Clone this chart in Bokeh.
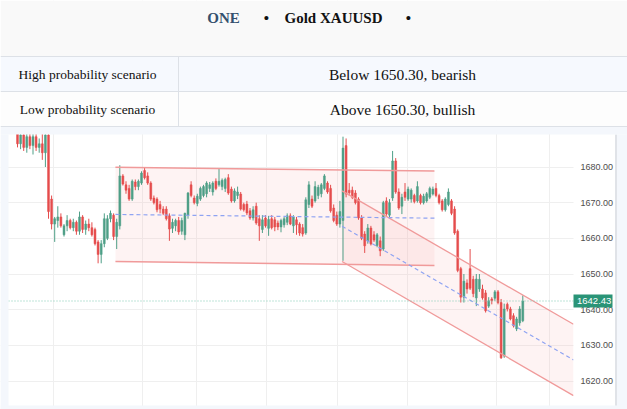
from bokeh.plotting import figure
from bokeh.models import Range1d, FixedTicker, Grid, ColumnDataSource
from bokeh.embed import file_html
from bokeh.resources import INLINE
from bokeh.core.properties import value

# ---------------- data ----------------
title_parts = ["ONE", "\u2022", "Gold XAUUSD", "\u2022"]
level = "1650.30"
scenario_labels = ["High probability scenario", "Low probability scenario"]
scenario_texts = ["Below %s, bearish" % level, "Above %s, bullish" % level]

opens = [1689.5, 1686.5, 1689, 1685.5, 1688.5, 1686, 1688.5, 1685.5, 1686.5, 1684,
         1689, 1671, 1664, 1665, 1666, 1661, 1663.5, 1665, 1663, 1664.5,
         1662, 1666, 1662.5, 1664, 1663, 1662.5, 1659, 1655.5, 1658.5, 1660,
         1665.5, 1666.5, 1660.5, 1663.5, 1677.5, 1675, 1674, 1671, 1675.8, 1674.5,
         1675.5, 1679, 1677.5, 1675.5, 1671.3, 1671, 1669.5, 1668.2, 1668.2, 1666.3,
         1662.8, 1663.5, 1665, 1662, 1661, 1666.5, 1675, 1671.3, 1669.8, 1671,
         1672, 1672.5, 1674, 1673, 1676, 1675, 1674.5, 1674, 1677, 1673.8,
         1670.5, 1672, 1672.4, 1669.5, 1669.6, 1667.7, 1665.7, 1669, 1665.5, 1662.5,
         1665.7, 1662.8, 1665.5, 1665.2, 1664.3, 1663.2, 1663.8, 1664.5, 1666.3, 1663.5,
         1665.2, 1664, 1663, 1661.5, 1669.5, 1671, 1670.5, 1672, 1672.5, 1674,
         1675.5, 1674, 1668.5, 1666.5, 1664, 1665, 1686, 1673.5, 1673.5, 1672.7,
         1671, 1665.7, 1661.2, 1659.3, 1662.9, 1661, 1658, 1659.3, 1657, 1670.5,
         1666.5, 1671.3, 1681.7, 1673, 1669, 1673, 1671, 1671, 1672, 1670.5,
         1672, 1670, 1670.5, 1671.5, 1672.4, 1674, 1672, 1670.5, 1668, 1669.5,
         1670.5, 1668.2, 1662, 1651.5, 1643.5, 1647.5, 1651.5, 1648.5, 1643.3, 1645.8,
         1645.8, 1644.7, 1641, 1643, 1643.2, 1645, 1642, 1627, 1641.5, 1640.2,
         1638.3, 1634.6, 1636.3, 1636.9]
highs = [1691, 1690, 1690.5, 1689.5, 1690, 1689.5, 1690, 1688, 1690, 1690.5,
         1690.5, 1672, 1666, 1669, 1667, 1664, 1666.5, 1665.5, 1665.5, 1665,
         1667.5, 1666.5, 1665, 1665.5, 1664.5, 1663, 1659.5, 1659.5, 1667, 1666.5,
         1667.8, 1667, 1665.5, 1680.5, 1678, 1676, 1675, 1676.5, 1676.5, 1676.5,
         1678.8, 1680, 1678.5, 1676, 1672, 1671.5, 1670.5, 1669, 1669, 1667,
         1665.5, 1665.5, 1666, 1665.8, 1667.2, 1673, 1676, 1672, 1672.5, 1674.5,
         1675, 1676, 1675.8, 1676, 1676.8, 1679.5, 1676.8, 1677, 1678, 1674.5,
         1674, 1674.5, 1673, 1670, 1670.5, 1668.5, 1669, 1670, 1666.5, 1666.5,
         1666.5, 1666.3, 1666.5, 1666, 1665, 1665.5, 1666, 1667, 1667, 1666.5,
         1666, 1664.5, 1664, 1671.5, 1676, 1672, 1676, 1675, 1675.5, 1678,
         1676, 1675, 1669.5, 1667.5, 1670.5, 1688.5, 1688, 1675.5, 1674.5, 1673.5,
         1671.5, 1666.5, 1662, 1664, 1663.5, 1662, 1661.5, 1660.5, 1670.5, 1671.5,
         1671, 1684.5, 1682.5, 1674, 1672.5, 1675.5, 1674.5, 1674, 1672.5, 1676,
         1672.5, 1672.5, 1673, 1674.5, 1674.5, 1675.5, 1672.5, 1671, 1671.5, 1674,
         1671, 1669, 1662.5, 1652, 1650, 1648.5, 1657, 1649.5, 1650, 1650,
         1647, 1645.5, 1643.5, 1643.5, 1645.5, 1645.5, 1643, 1641.7, 1642, 1640.8,
         1639, 1638, 1641, 1644]
lows = [1685.5, 1685, 1684.5, 1684, 1685, 1683.5, 1684.5, 1684, 1682, 1680,
        1665.5, 1662.5, 1659, 1663, 1663, 1660.5, 1662, 1662.5, 1662, 1661,
        1661, 1661.5, 1661, 1662, 1660.5, 1658, 1653, 1653, 1657.5, 1659.5,
        1664.5, 1659.5, 1657, 1662.5, 1674.8, 1672.5, 1670.5, 1670.5, 1673.5, 1673.5,
        1675, 1676.5, 1675, 1670.5, 1669.5, 1667.3, 1667, 1666.5, 1665, 1659.3,
        1661.5, 1662, 1661, 1661, 1659.5, 1665.5, 1671.5, 1669.5, 1669, 1670.5,
        1671.5, 1671.5, 1673, 1672, 1673.5, 1674.5, 1673.5, 1673, 1672.2, 1670,
        1670, 1671, 1667.8, 1667.5, 1666.5, 1665.2, 1665, 1663.8, 1659.3, 1661.5,
        1663, 1660.7, 1662.5, 1662, 1662.3, 1661.7, 1663, 1663.7, 1663.7, 1661.5,
        1661, 1660.7, 1660.5, 1661, 1668.5, 1668.5, 1670, 1671, 1671.5, 1673.5,
        1672.5, 1667.2, 1664.5, 1663.5, 1663, 1653.7, 1671.5, 1672, 1671, 1669.5,
        1665.2, 1659.5, 1655.9, 1658.5, 1658, 1659, 1657.5, 1655, 1656.5, 1666.3,
        1665.5, 1670.5, 1672.5, 1668, 1666.8, 1670.5, 1670.5, 1670, 1669.8, 1670,
        1669.5, 1669.5, 1670, 1671, 1672, 1671.5, 1669.5, 1667.5, 1667.5, 1669,
        1666.5, 1661, 1650.5, 1642, 1642, 1644.5, 1645.5, 1643.5, 1641, 1645,
        1642.8, 1639.2, 1640.5, 1641.5, 1642.5, 1641.5, 1626.2, 1626.5, 1639.5, 1637,
        1635, 1634, 1635.5, 1636.5]
closes = [1686.5, 1689, 1685.5, 1688.5, 1686, 1688.5, 1685.5, 1686.5, 1684, 1689,
          1667.5, 1664, 1665.5, 1666, 1663.5, 1663.5, 1665, 1663, 1664.5, 1662,
          1666, 1662.5, 1664, 1663, 1661, 1658.5, 1655.5, 1658.5, 1665.5, 1665.5,
          1667, 1660.5, 1664.5, 1677.5, 1675.2, 1673.5, 1671, 1676, 1674.5, 1676,
          1678.3, 1677, 1675.5, 1671, 1670, 1668, 1668.2, 1667, 1665.5, 1662.6,
          1664.5, 1665, 1661.8, 1665, 1667, 1672.7, 1672, 1670, 1671.8, 1674,
          1674.5, 1675.5, 1675, 1675.5, 1674, 1676, 1676.3, 1676.5, 1672.7, 1670.5,
          1673.3, 1673, 1668.2, 1668, 1667.1, 1665.7, 1668, 1664.3, 1663.5, 1665.2,
          1663.5, 1665.3, 1663, 1663.2, 1663.2, 1665, 1665.5, 1666.3, 1664, 1666,
          1663.8, 1661.5, 1661.2, 1670.8, 1675, 1669, 1674.5, 1674.3, 1675, 1677.5,
          1673, 1667.7, 1665, 1664, 1667.5, 1685.3, 1672.4, 1672.8, 1671.5, 1670,
          1665.7, 1660, 1657.9, 1662.9, 1658.4, 1659.5, 1661, 1656.5, 1670, 1666.8,
          1670, 1681.7, 1673, 1668.5, 1671.5, 1671.5, 1673.8, 1673.5, 1670.3, 1674.5,
          1670, 1671.8, 1672.5, 1674, 1673.8, 1672, 1670, 1668, 1671, 1673,
          1667, 1661.5, 1651, 1643.5, 1648, 1645.8, 1646, 1644.5, 1648.6, 1648.5,
          1643.3, 1639.7, 1642.5, 1642.5, 1645, 1642, 1626.5, 1640.2, 1640.2, 1637.4,
          1635.5, 1637.4, 1640.2, 1642.43]

last_price = 1642.43
price_ticks = [1620, 1630, 1640, 1650, 1660, 1670, 1680]
# session separators (bar index)
session_ticks = [11.6, 40.3, 57.7, 80.3, 103.2, 125.8, 154.5, 171.6]

# drawn objects (bar index, price)
range_x = [31.6, 134.5]
range_top = [1679.9, 1678.9]
range_bottom = [1653.5, 1652.4]
chan_x = [104.7, 179.35]
chan_upper = [1673.3, 1635.9]
chan_lower = [1653.5, 1615.9]

# ---------------- page geometry (pixels) ----------------
PW, PH = 627, 409
BAR0_X, BAR_STEP = 17.0, 3.1          # page x of bar 0, px per bar
Y_REF, Y_REF_PX, PX_PER_UNIT = 1680.0, 166.5, 3.567

p = figure(width=PW, height=PH, x_range=Range1d(0, PW), y_range=Range1d(PH, 0),
           x_axis_location=None, y_axis_location=None, toolbar_location=None,
           output_backend="svg", min_border=0, outline_line_color=None,
           background_fill_color="white", border_fill_color="white")
p.grid.visible = False
p.extra_x_ranges = {"bar": Range1d((0 - BAR0_X) / BAR_STEP, (PW - BAR0_X) / BAR_STEP)}
p.extra_y_ranges = {"price": Range1d(Y_REF - (PH - Y_REF_PX) / PX_PER_UNIT,
                                     Y_REF + Y_REF_PX / PX_PER_UNIT)}

grid_col = "#efefef"
p.add_layout(Grid(dimension=1, ticker=FixedTicker(ticks=price_ticks), y_range_name="price",
                  grid_line_color=grid_col))
p.add_layout(Grid(dimension=0, ticker=FixedTicker(ticks=session_ticks), x_range_name="bar",
                  grid_line_color=grid_col))

# ---------------- chart ----------------
n = len(closes)
green = "#4e9f87"
red = "#e54d4d"
colors = [green if c >= o else red for o, c in zip(opens, closes)]
src = ColumnDataSource(dict(x=list(range(n)), h=highs, l=lows,
                            top=[max(o, c) for o, c in zip(opens, closes)],
                            bot=[min(o, c) for o, c in zip(opens, closes)],
                            color=colors))
R = dict(x_range_name="bar", y_range_name="price")

fill_col = "#f4a0a0"
line_col = "#f09a9a"
p.patch(x=[range_x[0], range_x[1], range_x[1], range_x[0]],
        y=[range_top[0], range_top[1], range_bottom[1], range_bottom[0]],
        fill_color=fill_col, fill_alpha=0.13, line_color=None, **R)
p.patch(x=[chan_x[0], chan_x[1], chan_x[1], chan_x[0]],
        y=[chan_upper[0], chan_upper[1], chan_lower[1], chan_lower[0]],
        fill_color=fill_col, fill_alpha=0.13, line_color=None, **R)

p.segment(x0="x", x1="x", y0="l", y1="h", line_color="color", line_width=1, source=src, **R)
p.vbar(x="x", top="top", bottom="bot", width=0.62, fill_color="color", line_color="color",
       line_width=0.5, source=src, **R)

p.line(range_x, range_top, line_color=line_col, line_width=1.5, **R)
p.line(range_x, range_bottom, line_color=line_col, line_width=1.5, **R)
p.line(chan_x, chan_upper, line_color=line_col, line_width=1.3, **R)
p.line(chan_x, chan_lower, line_color=line_col, line_width=1.3, **R)
p.line(range_x, [(a + b) / 2 for a, b in zip(range_top, range_bottom)],
       line_color="#8ea3f2", line_width=1.2, line_dash="4 3", **R)
p.line(chan_x, [(a + b) / 2 for a, b in zip(chan_upper, chan_lower)],
       line_color="#8ea3f2", line_width=1.2, line_dash="4 3", **R)

# last-price dotted line across the chart pane
p.segment(x0=[8], x1=[573], y0=[last_price], y1=[last_price], line_color="#7fcab2",
          line_dash="1 2", line_width=1, y_range_name="price")

# price-scale pane and outer frame strips
p.quad(left=[573], right=[615], top=[134], bottom=[405], fill_color="white", line_color=None)
p.quad(left=[0, 615, 0], right=[8, 627, 627], top=[134, 134, 405], bottom=[409, 409, 409],
       fill_color="#f4f7fc", line_color=None)
p.segment(x0=[615.5], x1=[615.5], y0=[134], y1=[405], line_color="#e0e3e8", line_width=2)

# ---------------- header ----------------
p.quad(left=[0, 0, 0, 0], right=[PW] * 4, top=[0, 56, 91, 126], bottom=[56, 91, 126, 134],
       fill_color=["#f9f9f9", "#f6f9fe", "#fdfdfd", "#f4f7fc"], line_color=None)
p.segment(x0=[0, 0, 0, 178], x1=[PW, PW, PW, 178], y0=[56, 91, 126, 56], y1=[56, 91, 126, 126],
          line_color="#dde1e7", line_width=1)
p.text(x=[223, 266, 333, 408], y=[17, 17, 17, 17], text=title_parts,
       text_font=value("Liberation Serif"), text_font_style="bold", text_font_size="15px",
       text_color=["#34506e", "#111111", "#111111", "#111111"],
       text_align="center", text_baseline="middle")
p.text(x=[87, 87], y=[73.5, 108.5], text=scenario_labels,
       text_font=value("Liberation Serif"), text_font_size="13.5px", text_color="#111111",
       text_align="center", text_baseline="middle")
p.text(x=[402, 402], y=[73.5, 108.5], text=scenario_texts,
       text_font=value("Liberation Serif"), text_font_size="15.5px", text_color="#111111",
       text_align="center", text_baseline="middle")

# ---------------- price scale labels ----------------
p.text(x=[580] * len(price_ticks), y=price_ticks, text=["%.2f" % t for t in price_ticks],
       text_font=value("Liberation Sans"), text_font_size="9px", text_color="#4d4d4d",
       text_align="left", text_baseline="middle", y_range_name="price")
p.rect(x=[592.5], y=[last_price], width=39, height=13, width_units="screen",
       height_units="screen", fill_color="#2a9477", line_color=None, y_range_name="price")
p.text(x=[576.5], y=[last_price], text=["%.2f" % last_price],
       text_font=value("Liberation Sans"), text_font_size="9.5px", text_color="white",
       text_align="left", text_baseline="middle", y_range_name="price")

open("out.html", "w").write(file_html(p, INLINE))
